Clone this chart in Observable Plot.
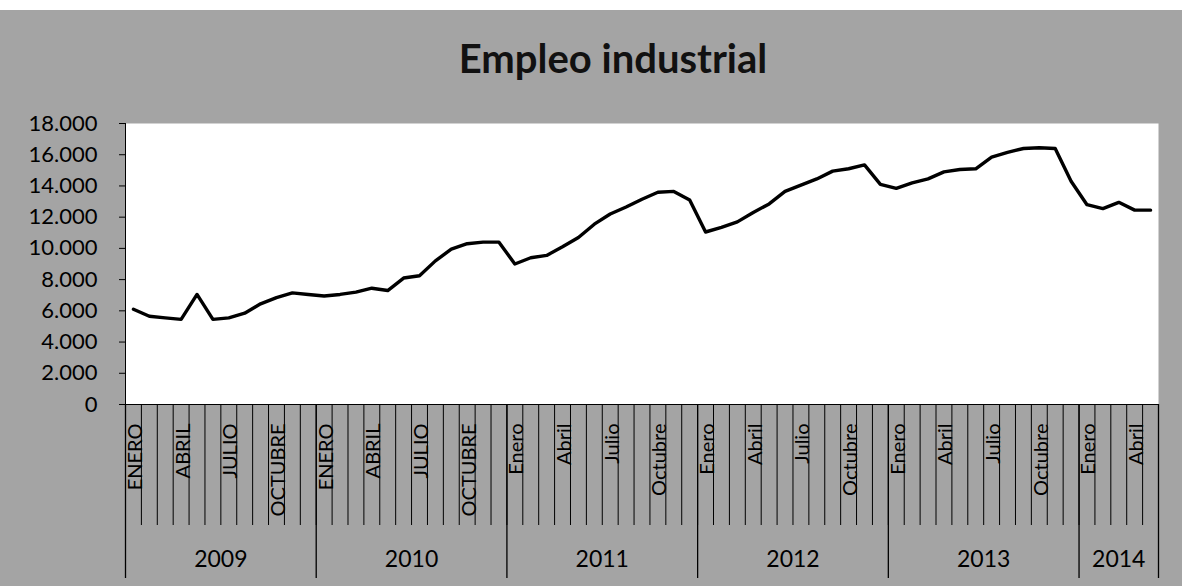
<!DOCTYPE html>
<html>
<head>
<meta charset="utf-8">
<script src="https://cdn.jsdelivr.net/npm/d3@7"></script>
<script src="https://cdn.jsdelivr.net/npm/@observablehq/plot@0.6"></script>
<style>
  body { margin: 0; background: #fff; }
  #wrap { position: relative; width: 1182px; height: 586px; overflow: hidden; background: #fff; }
  #bg { position: absolute; left: 0; top: 10px; width: 1182px; height: 576px; background: #a4a4a4; }
  #chart { position: absolute; left: 0; top: 0; }
  #title { position: absolute; left: 0; width: 1226px; top: 38px; text-align: center;
           font: bold 40px Lato, "Open Sans", sans-serif; line-height: 40px; color: #111; }
</style>
</head>
<body>
<div id="wrap">
  <div id="bg"></div>
  <div id="chart"></div>
  <div id="title">Empleo industrial</div>
</div>
<script>
// ---- data ----
const years = ["2009", "2010", "2011", "2012", "2013", "2014"];
const monthsPerYear = [12, 12, 12, 12, 12, 5];
const monthNamesUpper = ["ENERO","FEBRERO","MARZO","ABRIL","MAYO","JUNIO","JULIO","AGOSTO","SEPTIEMBRE","OCTUBRE","NOVIEMBRE","DICIEMBRE"];
const monthNamesLower = ["Enero","Febrero","Marzo","Abril","Mayo","Junio","Julio","Agosto","Septiembre","Octubre","Noviembre","Diciembre"];
const labelledMonths = [0, 3, 6, 9];
const upperCaseYears = ["2009", "2010"];

const values2009 = [6100, 5650, 5550, 5450, 7050, 5450, 5550, 5850, 6450, 6850, 7150, 7050];
const values2010 = [6950, 7050, 7200, 7450, 7300, 8100, 8250, 9200, 9950, 10300, 10400, 10400];
const values2011 = [9000, 9400, 9550, 10100, 10700, 11550, 12200, 12650, 13150, 13600, 13650, 13100];
const values2012 = [11050, 11350, 11700, 12300, 12850, 13650, 14050, 14450, 14950, 15100, 15350, 14100];
const values2013 = [13850, 14200, 14450, 14900, 15050, 15100, 15850, 16150, 16400, 16450, 16400, 14300];
const values2014 = [12800, 12550, 12950, 12450, 12450];
const seriesByYear = [values2009, values2010, values2011, values2012, values2013, values2014];

const yTicks = [0, 2000, 4000, 6000, 8000, 10000, 12000, 14000, 16000, 18000];

// ---- build table ----
const rows = [];
years.forEach((yr, yi) => {
  const vals = seriesByYear[yi];
  for (let m = 0; m < monthsPerYear[yi]; m++) {
    rows.push({
      i: rows.length, year: yr, m, value: vals[m],
      label: upperCaseYears.includes(yr) ? monthNamesUpper[m] : monthNamesLower[m]
    });
  }
});
const n = rows.length;
const monthBounds = d3.range(n + 1).map(k => k - 0.5);
const yearBounds = [-0.5];
monthsPerYear.forEach(c => yearBounds.push(yearBounds[yearBounds.length - 1] + c));
const yearCenters = years.map((y, k) => (yearBounds[k] + yearBounds[k + 1]) / 2);
const labelRows = rows.filter(r => labelledMonths.includes(r.m));
const labelByIndex = new Map(labelRows.map(r => [r.i, r.label]));
const yearByCenter = new Map(yearCenters.map((c, k) => [c, years[k]]));
const fmt = d => d3.format(",")(d).replace(/,/g, ".");

const chart = Plot.plot({
  width: 1182,
  height: 586,
  marginLeft: 125,
  marginRight: 24,
  marginTop: 123,
  marginBottom: 182,
  style: { background: "transparent", fontFamily: "Lato, 'Open Sans', sans-serif", color: "#000" },
  x: { domain: [-0.5, n - 0.5], axis: null },
  y: { domain: [0, 18000], axis: null },
  marks: [
    Plot.frame({ fill: "white", stroke: null }),
    Plot.axisY({ ticks: yTicks, tickFormat: fmt, tickSize: 6, tickPadding: 22, fontSize: 22, strokeOpacity: 1, label: null }),
    Plot.axisX({ ticks: monthBounds, tickFormat: () => "", tickSize: 121, tickPadding: 0, strokeOpacity: 1, strokeWidth: 1, label: null }),
    Plot.axisX({ ticks: yearBounds, tickFormat: () => "", tickSize: 174, tickPadding: 0, strokeOpacity: 1, strokeWidth: 1.3, label: null }),
    Plot.axisX({ ticks: labelRows.map(r => r.i), tickFormat: i => labelByIndex.get(i), tickSize: 0, tickPadding: 19, tickRotate: -90, fontSize: 20, dx: 2, label: null }),
    Plot.axisX({ ticks: yearCenters, tickFormat: c => yearByCenter.get(c), tickSize: 0, tickPadding: 146, fontSize: 23, label: null }),
    Plot.ruleY([0], { stroke: "#000", strokeWidth: 1 }),
    Plot.ruleX([-0.5], { stroke: "#000", strokeWidth: 1 }),
    Plot.line(rows, { x: "i", y: "value", stroke: "#000", strokeWidth: 3.4, strokeLinejoin: "round", strokeLinecap: "round" })
  ]
});
document.getElementById("chart").appendChild(chart);
</script>
</body>
</html>
